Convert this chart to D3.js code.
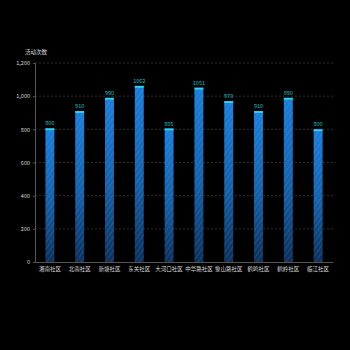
<!DOCTYPE html>
<html>
<head>
<meta charset="utf-8">
<script src="https://cdn.jsdelivr.net/npm/d3@7"></script>
<style>
  html, body { margin: 0; padding: 0; background: #000; }
  svg { display: block; }
</style>
</head>
<body>
<svg id="chart" width="350" height="350"></svg>
<script>
// Community activity counts
const categories = ["湘南社区", "北南社区", "新塘社区", "东关社区", "大河口社区", "中华路社区", "象山路社区", "鹤鸣社区", "鹤岭社区", "临江社区"];
const values = [806, 910, 990, 1062, 805, 1051, 970, 910, 990, 800];
const yTicks = [0, 200, 400, 600, 800, 1000, 1200];
const yTitle = "活动次数";

const W = 350, H = 350;
const margin = { top: 63, right: 17, bottom: 88, left: 35 };
const svg = d3.select("#chart");
const font = "'Noto Sans CJK SC', 'Noto Sans', sans-serif";

const x = d3.scaleBand().domain(categories).range([margin.left, W - margin.right])
  .paddingInner(0.7).paddingOuter(0.35);
const y = d3.scaleLinear().domain([0, 1200]).range([H - margin.bottom, margin.top]);

const defs = svg.append("defs");
const grad = defs.append("linearGradient").attr("id", "barGrad")
  .attr("x1", 0).attr("y1", 0).attr("x2", 0).attr("y2", 1);
grad.append("stop").attr("offset", "0%").attr("stop-color", "#1a80dc");
grad.append("stop").attr("offset", "55%").attr("stop-color", "#1560a8");
grad.append("stop").attr("offset", "100%").attr("stop-color", "#0c2f58");

const pat = defs.append("pattern").attr("id", "hatch")
  .attr("patternUnits", "userSpaceOnUse").attr("width", 4).attr("height", 4)
  .attr("patternTransform", "rotate(35)");
pat.append("line").attr("x1", 0).attr("y1", 0).attr("x2", 0).attr("y2", 4)
  .attr("stroke", "rgba(120,190,255,0.28)").attr("stroke-width", 1.2);

// grid lines
svg.append("g").selectAll("line").data(yTicks.filter(d => d > 0)).join("line")
  .attr("x1", margin.left).attr("x2", W - margin.right)
  .attr("y1", d => y(d)).attr("y2", d => y(d))
  .attr("stroke", "#3a3a3a").attr("stroke-width", 0.8).attr("stroke-dasharray", "2,2");

// y axis
const yAxis = svg.append("g").attr("transform", `translate(${margin.left},0)`)
  .call(d3.axisLeft(y).tickValues(yTicks).tickSize(2).tickFormat(d3.format(",")));
yAxis.select(".domain").attr("stroke", "#555");
yAxis.selectAll(".tick line").attr("stroke", "#555");
yAxis.selectAll("text").attr("fill", "#ddd").attr("font-size", 5.5).attr("font-family", font);

// x axis
const xAxis = svg.append("g").attr("transform", `translate(0,${y(0)})`)
  .call(d3.axisBottom(x).tickSize(0).tickPadding(5));
xAxis.select(".domain").attr("stroke", "#555");
xAxis.selectAll("text").attr("fill", "#ddd").attr("font-size", 5.5).attr("font-family", font);

// axis title
svg.append("text").attr("x", margin.left - 10).attr("y", 54)
  .attr("fill", "#ddd").attr("font-size", 5.5).attr("font-family", font).text(yTitle);

// bars
const bars = svg.append("g");
bars.selectAll("rect.bar").data(values).join("rect").attr("class", "bar")
  .attr("x", (d, i) => x(categories[i])).attr("width", x.bandwidth())
  .attr("y", d => y(d)).attr("height", d => y(0) - y(d))
  .attr("fill", "url(#barGrad)");
bars.selectAll("rect.hatch").data(values).join("rect").attr("class", "hatch")
  .attr("x", (d, i) => x(categories[i])).attr("width", x.bandwidth())
  .attr("y", d => y(d)).attr("height", d => y(0) - y(d))
  .attr("fill", "url(#hatch)");
bars.selectAll("rect.cap").data(values).join("rect").attr("class", "cap")
  .attr("x", (d, i) => x(categories[i])).attr("width", x.bandwidth())
  .attr("y", d => y(d)).attr("height", 1.8)
  .attr("fill", "#2fd8e8");

// value labels
svg.append("g").selectAll("text").data(values).join("text")
  .attr("x", (d, i) => x(categories[i]) + x.bandwidth() / 2)
  .attr("y", d => y(d) - 3)
  .attr("text-anchor", "middle")
  .attr("fill", "#22c0c4").attr("font-size", 5.5).attr("font-family", font)
  .text(d => d);
</script>
</body>
</html>
